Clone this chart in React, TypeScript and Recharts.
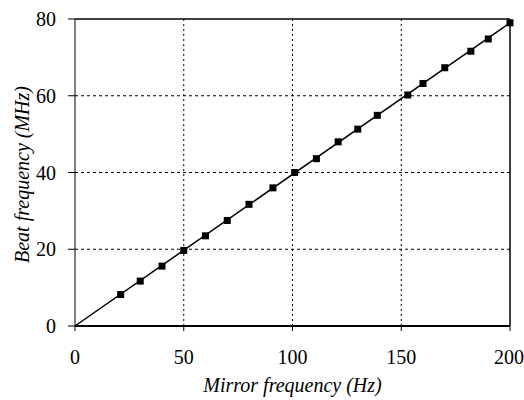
import { ScatterChart, Scatter, XAxis, YAxis, ReferenceLine } from 'recharts'

// measured points (mirror freq in Hz vs beat freq in MHz)
const mirrorHz = [21, 30, 40, 50, 60, 70, 80, 91, 101, 111, 121, 130, 139, 153, 160, 170, 182, 190, 200]
const beatMHz = [8.2, 11.7, 15.6, 19.7, 23.5, 27.5, 31.7, 36.0, 40.0, 43.6, 48.0, 51.3, 54.9, 60.2, 63.2, 67.3, 71.6, 74.8, 79.0]

// straight fit through the origin
const fitHz = [0, 200]
const fitMHz = [0, 79]

const xTicks = [0, 50, 100, 150, 200]
const yTicks = [0, 20, 40, 60, 80]

const points = mirrorHz.map((x, i) => ({ x, y: beatMHz[i] }))
const fit = fitHz.map((x, i) => ({ x, y: fitMHz[i] }))

const FONT = '"Liberation Serif", "Times New Roman", serif'
const tickStyle = { fontSize: 20, fill: '#000', fontFamily: FONT }

const Square = (p: any) => (
  <rect x={p.cx - 3.5} y={p.cy - 3.5} width={7} height={7} fill="#000" />
)

export default function App() {
  return (
    <div style={{ position: 'absolute', left: 0, top: 0, background: '#fff' }}>
      <ScatterChart width={524} height={400} margin={{ top: 19, right: 14, bottom: 0, left: 0 }}>
        <XAxis
          type="number" dataKey="x" domain={[0, 200]} ticks={xTicks}
          height={74} tickSize={5} tickMargin={19}
          axisLine={{ stroke: '#000', strokeWidth: 2 }} tickLine={{ stroke: '#000' }}
          tick={tickStyle}
          label={{
            content: (p: any) => (
              <text x={p.viewBox.x + p.viewBox.width / 2} y={p.viewBox.y + 66} textAnchor="middle"
                fontFamily={FONT} fontStyle="italic" fontSize={20} fill="#000">
                Mirror frequency (Hz)
              </text>
            ),
          }}
        />
        <YAxis
          type="number" dataKey="y" domain={[0, 80]} ticks={yTicks}
          width={75} tickSize={7} tickMargin={12}
          axisLine={{ stroke: '#000' }} tickLine={{ stroke: '#000' }}
          tick={tickStyle}
          label={{
            content: (p: any) => {
              const cx = 22
              const cy = p.viewBox.y + p.viewBox.height / 2 + 2
              return (
                <text x={cx} y={cy} textAnchor="middle" dominantBaseline="central"
                  transform={`rotate(-90 ${cx} ${cy})`}
                  fontFamily={FONT} fontStyle="italic" fontSize={20} fill="#000">
                  Beat frequency (MHz)
                </text>
              )
            },
          }}
        />
        {xTicks.slice(1, -1).map(t => (
          <ReferenceLine key={'vx' + t} x={t} stroke="#000" strokeDasharray="2 3" />
        ))}
        {yTicks.slice(1, -1).map(t => (
          <ReferenceLine key={'hy' + t} y={t} stroke="#000" strokeDasharray="3 3" />
        ))}
        <ReferenceLine y={80} stroke="#000" strokeWidth={1.5} />
        <ReferenceLine x={200} stroke="#000" strokeWidth={1.5} />
        <Scatter data={fit} line={{ stroke: '#000', strokeWidth: 1.5 }} shape={() => <g />} isAnimationActive={false} />
        <Scatter data={points} shape={Square} isAnimationActive={false} />
      </ScatterChart>
    </div>
  )
}
